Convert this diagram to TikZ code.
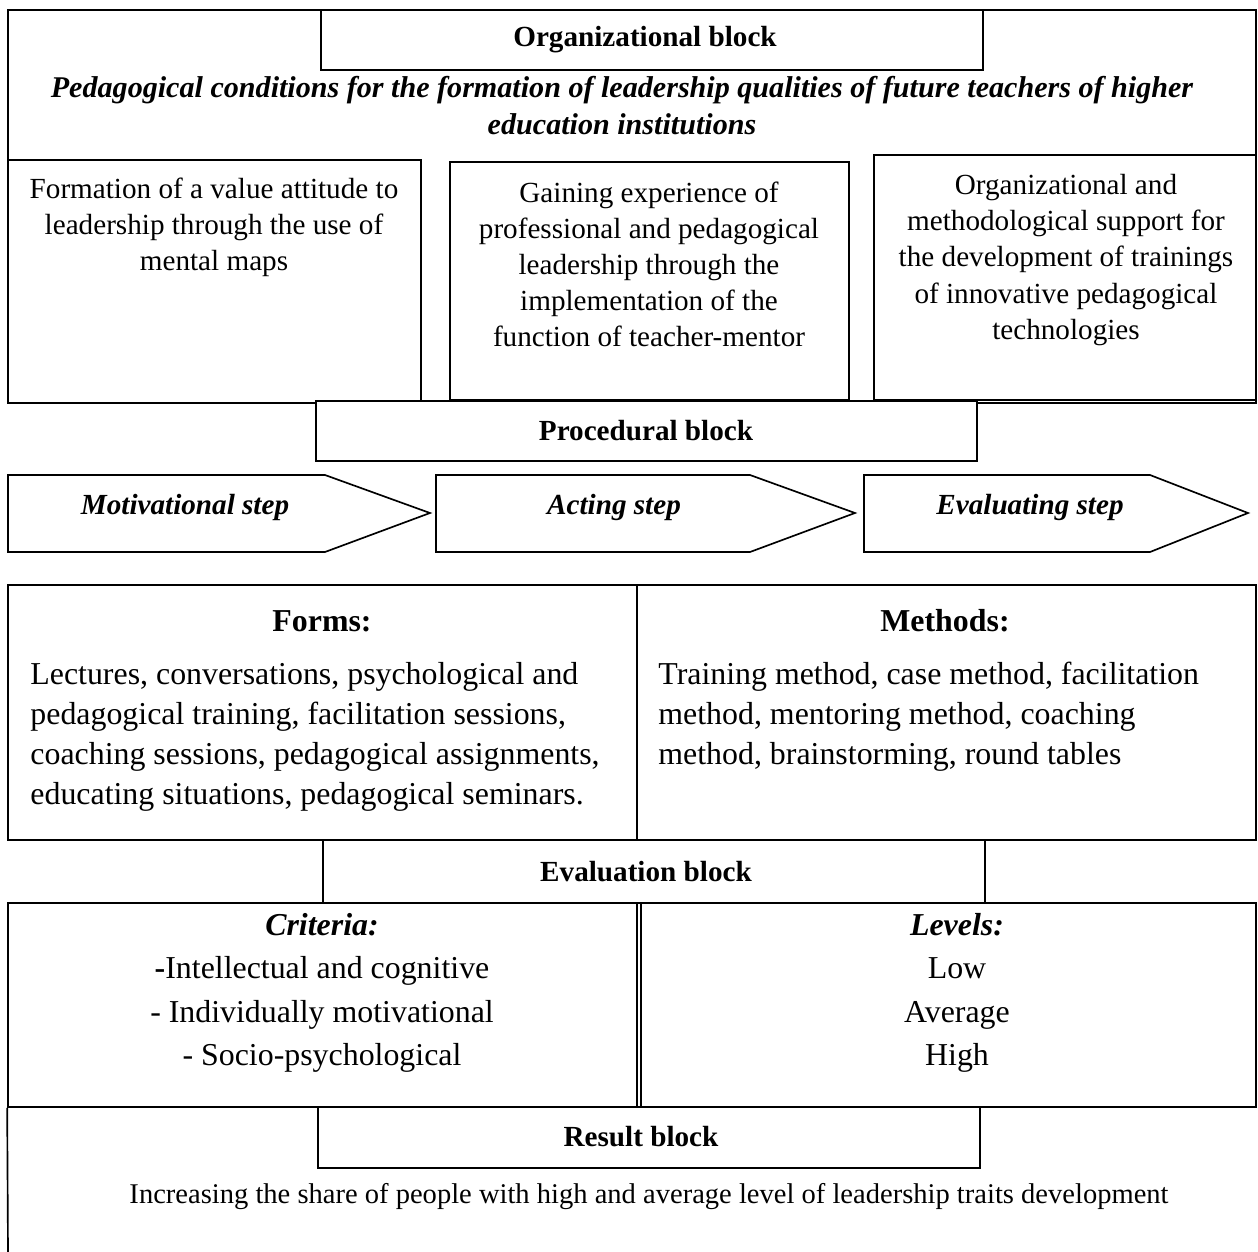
\documentclass[tikz,border=0pt]{standalone}
\usepackage{fontspec}
\setmainfont{Liberation Serif}
\usetikzlibrary{positioning, fit}

\begin{document}
\begin{tikzpicture}[x=0.48pt, y=-0.48pt,
  frame/.style={draw, line width=0.8pt, inner sep=0pt},
  headbox/.style={frame, fill=white},
  headtext/.style={font=\fontsize{14}{17}\selectfont\bfseries},
  steparrow/.style={draw, line width=0.8pt, fill=white},
  steptext/.style={font=\fontsize{14}{17}\selectfont\bfseries\itshape},
  condtext/.style={align=center, inner sep=0pt, font=\fontsize{14}{17.3}\selectfont},
  formtext/.style={align=left, anchor=west, inner sep=0pt, font=\fontsize{15.3}{19.2}\selectfont},
  listtext/.style={align=center, inner sep=0pt, font=\fontsize{15.3}{20.8}\selectfont}]
\useasboundingbox (0,0) rectangle (1258,1252);

% organizational block
\node[frame, fit={(8,10) (1256,403)}] (org) {};
\node[headbox, fit={(321,10) (983,70)}] (orghead) {};
\node[headtext] (orgtitle) at (645,40) {Organizational block};
\node[align=center, inner sep=0pt, font=\fontsize{14.45}{17.8}\selectfont\bfseries\itshape] (cond) at (622,106)
  {Pedagogical conditions for the formation of leadership qualities of future teachers of higher\\education institutions};

\node[frame, fit={(8,160) (421,403)}] (c1) {};
\node[frame, fit={(450,162) (849,400)}] (c2) {};
\node[frame, fit={(874,155) (1256,400)}] (c3) {};
\node[condtext] (c1txt) at (214,227) {Formation of a value attitude to\\leadership through the use of\\mental maps};
\node[condtext] (c2txt) at (649,264) {Gaining experience of\\professional and pedagogical\\leadership through the\\implementation of the\\function of teacher-mentor};
\node[condtext] (c3txt) at (1066,260) {Organizational and\\methodological support for\\the development of trainings\\of innovative pedagogical\\technologies};

% procedural block
\node[headbox, fit={(316,401) (977,461)}] (proc) {};
\node[headtext] (proctitle) at (646,431) {Procedural block};

\draw[steparrow] (8,475) -- (325,475) -- (430,513) -- (325,552) -- (8,552) -- cycle;
\draw[steparrow] (436,475) -- (750,475) -- (855,513) -- (750,552) -- (436,552) -- cycle;
\draw[steparrow] (864,475) -- (1150,475) -- (1248,513) -- (1150,552) -- (864,552) -- cycle;
\node[steptext] (motstep) at (185,507) {Motivational step};
\node[steptext] (actstep) at (614,507) {Acting step};
\node[steptext] (evalstep) at (1030,507) {Evaluating step};

\node[frame, fit={(8,585) (637,840)}] (forms) {};
\node[frame, fit={(637,585) (1256,840)}] (methods) {};
\node[font=\fontsize{15.3}{19}\selectfont\bfseries] (formshead) at (322,621) {Forms:};
\node[font=\fontsize{15.3}{19}\selectfont\bfseries] (methhead) at (945,621) {Methods:};
\node[formtext] (formstxt) at (30,737) {Lectures, conversations, psychological and\\pedagogical training, facilitation sessions,\\coaching sessions, pedagogical assignments,\\educating situations, pedagogical seminars.};
\node[formtext] (methtxt) at (658,717) {Training method, case method, facilitation\\method, mentoring method, coaching\\method, brainstorming, round tables};

% evaluation block
\node[frame, fit={(8,903) (637,1107)}] (crit) {};
\node[frame, fit={(641,903) (1256,1107)}] (lev) {};
\node[headbox, fit={(323,840) (985,903)}] (evalblk) {};
\node[headtext] (evaltitle) at (646,872) {Evaluation block};
\node[listtext] (crittxt) at (322,993) {\textbf{\textit{Criteria:}}\\\textbf{-}Intellectual and cognitive\\- Individually motivational\\- Socio-psychological};
\node[listtext] (levtxt) at (957,993) {\textbf{\textit{Levels:}}\\Low\\Average\\High};

% result block
\coordinate (resfoot) at (8,1252);
\draw[line width=0.8pt] (crit.south west) -- (resfoot);
\node[headbox, fit={(318,1107) (980,1168)}] (resblk) {};
\node[headtext] (restitle) at (641,1137) {Result block};
\node[font=\fontsize{13.7}{16}\selectfont] (restxt) at (649,1197) {Increasing the share of people with high and average level of leadership traits development};
\end{tikzpicture}
\end{document}
